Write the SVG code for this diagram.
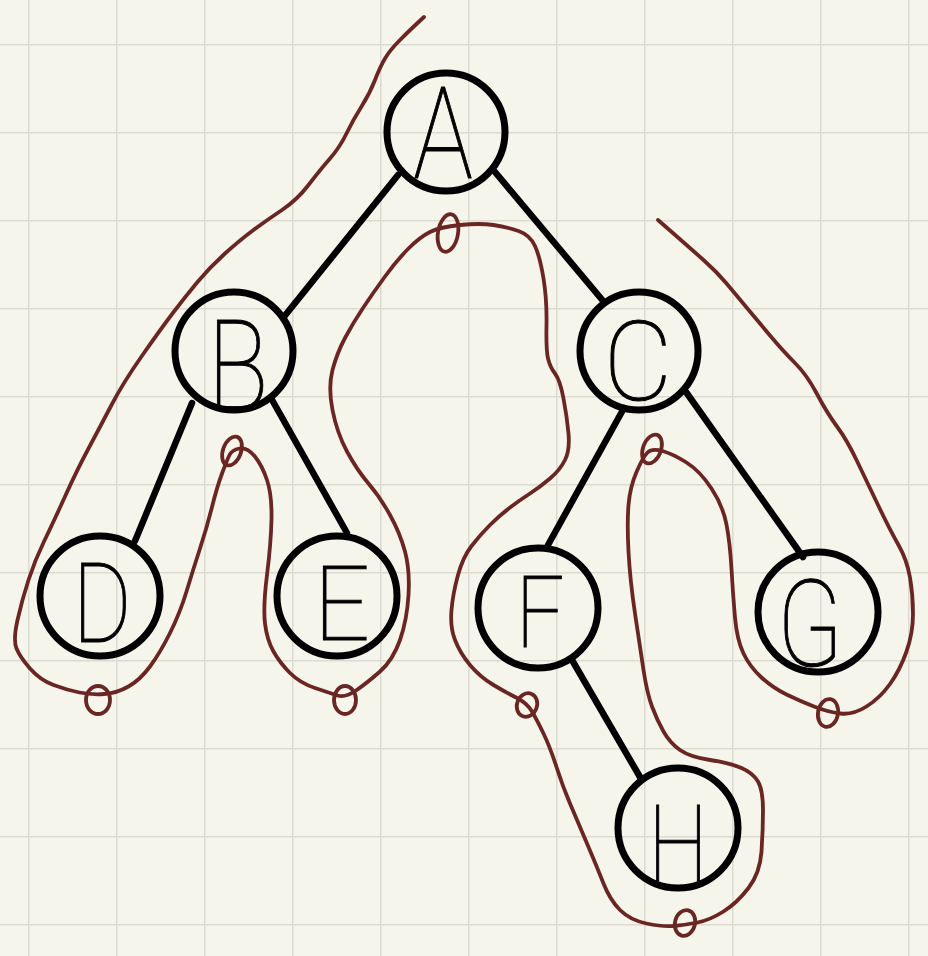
<svg xmlns="http://www.w3.org/2000/svg" width="928" height="956" viewBox="0 0 928 956">
<style>
.edge{stroke:#000;stroke-width:6.5;stroke-linecap:round;fill:none}
.node circle{fill:none;stroke:#000;stroke-width:7}
.node text{font-family:Roboto,"Liberation Sans",sans-serif;font-weight:100;font-size:112px;fill:#000;stroke:#000;stroke-width:1;text-anchor:middle}
.trace{fill:none;stroke:#6a2622;stroke-width:3.8;stroke-linecap:round;stroke-linejoin:round}
</style>
<defs>
<pattern id="grid" x="28" y="44" width="88" height="88" patternUnits="userSpaceOnUse">
<path d="M0,0 V88 M0,0 H88" stroke="#dcdbd1" stroke-width="3" fill="none"/>
</pattern>
</defs>
<rect width="928" height="956" fill="#f6f5ec"/>
<rect width="928" height="956" fill="url(#grid)"/>
<g id="connectors">
<line class="edge" x1="398" y1="175" x2="283" y2="318"/>
<line class="edge" x1="495" y1="172" x2="604" y2="302"/>
<line class="edge" x1="192" y1="403" x2="135" y2="541"/>
<line class="edge" x1="271" y1="398" x2="347" y2="533"/>
<line class="edge" x1="624" y1="408" x2="548" y2="545"/>
<line class="edge" x1="686" y1="392" x2="803" y2="557"/>
<line class="edge" x1="572" y1="660" x2="640" y2="777"/>
</g>
<g id="node-A" class="node"><circle cx="446" cy="132" r="59"/><text transform="translate(443,178) scale(0.78,1)" style="font-size:128px">A</text></g>
<g id="node-B" class="node"><circle cx="234" cy="351" r="59"/><text transform="translate(238,410) scale(0.8,1)" style="font-size:126px">B</text></g>
<g id="node-C" class="node"><circle cx="639" cy="351" r="59"/><text transform="translate(638,400) scale(0.95,1)">C</text></g>
<g id="node-D" class="node"><circle cx="100" cy="596" r="60"/><text transform="translate(102,642) scale(0.8,1)">D</text></g>
<g id="node-E" class="node"><circle cx="337" cy="596" r="60"/><text transform="translate(342,640) scale(0.95,1)" style="font-size:104px">E</text></g>
<g id="node-F" class="node"><circle cx="538" cy="608" r="60"/><text transform="translate(540,647) scale(0.85,1)" style="font-size:100px">F</text></g>
<g id="node-G" class="node"><circle cx="818" cy="612" r="60"/><text transform="translate(810,666) scale(0.8,1)" style="font-size:120px">G</text></g>
<g id="node-H" class="node"><circle cx="678" cy="828" r="60"/><text transform="translate(678,880) scale(0.8,1)" style="font-size:106px">H</text></g>
<g id="traversal">
<path class="trace" d="M424,17 L417,23.5 Q410,30 400,40 Q390,50 385,58.5 Q380,67 375,80 Q370,93 361.5,106.5 Q353,120 346.5,133.5 Q340,147 330,158.5 Q320,170 308.5,185 Q297,200 282,210 Q267,220 253.5,230 Q240,240 225,253.5 Q210,267 197.5,282 Q185,297 172.5,313.5 Q160,330 141.5,356.5 Q123,383 111.5,405 Q100,427 88.5,448.5 Q77,470 65,496.5 Q53,523 44,541.5 Q35,560 28.5,580 Q22,600 17.5,620 Q13,640 16.5,648.5 Q20,657 30,668.5 Q40,680 53.5,685 Q67,690 79.5,692.5 Q92,695 104.5,694 Q117,693 128.5,686.5 Q140,680 150,666.5 Q160,653 170,633 Q180,613 186.5,591.5 Q193,570 200,548.5 Q207,527 212,507 Q217,487 222,473.5 Q227,460 229.5,455 Q232,450 239.5,448.5 Q247,447 254.5,456 Q262,465 267,480 Q272,495 271.5,519 Q271,543 267,575 Q263,607 265,623.5 Q267,640 273.5,651.5 Q280,663 290,673 Q300,683 315,688 Q330,693 337.5,695.5 Q345,698 356,690.5 Q367,683 380,671.5 Q393,660 400,640 Q407,620 408.5,595 Q410,570 405,551.5 Q400,533 390,515 Q380,497 368.5,483.5 Q357,470 347,451.5 Q337,433 332.5,410 Q328,387 332.5,370 Q337,353 345,338 Q353,323 363,308 Q373,293 385,276.5 Q397,260 408.5,248.5 Q420,237 430,232 Q440,227 460,225 Q480,223 493.5,225 Q507,227 518.5,231 Q530,235 535,246 Q540,257 543.5,278.5 Q547,300 546.5,325 Q546,350 548,358.5 Q550,367 555,373.5 Q560,380 563.5,398.5 Q567,417 568.5,433.5 Q570,450 565,460 Q560,470 550,478.5 Q540,487 530,493.5 Q520,500 510,507.5 Q500,515 490,525 Q480,535 471.5,546 Q463,557 458,575 Q453,593 451.5,610 Q450,627 455,640 Q460,653 470,665 Q480,677 493.5,685 Q507,693 517,698 Q527,703 532,711.5 Q537,720 543.5,733.5 Q550,747 556.5,767 Q563,787 570,803.5 Q577,820 587,843.5 Q597,867 603.5,883.5 Q610,900 620,910 Q630,920 646.5,923.5 Q663,927 674,926 Q685,925 697.5,922.5 Q710,920 723.5,911.5 Q737,903 748.5,888 Q760,873 761.5,851.5 Q763,830 763,810 Q763,790 758,781.5 Q753,773 741.5,768 Q730,763 710,760 Q690,757 680,750 Q670,743 663.5,731.5 Q657,720 652,706.5 Q647,693 643.5,670 Q640,647 635,613.5 Q630,580 628.5,551.5 Q627,523 628.5,505 Q630,487 636.5,472 Q643,457 647.5,452.5 Q652,448 662.5,451 Q673,454 686.5,462.5 Q700,471 711.5,488.5 Q723,506 726.5,524.5 Q730,543 731.5,569 Q733,595 735,617.5 Q737,640 743.5,653.5 Q750,667 761.5,677.5 Q773,688 786.5,694.5 Q800,701 814,706.5 Q828,712 840.5,713.5 Q853,715 866.5,706.5 Q880,698 890,684 Q900,670 906.5,651.5 Q913,633 913,614 Q913,595 910,577.5 Q907,560 898.5,545 Q890,530 878.5,506 Q867,482 857,461 Q847,440 837,426.5 Q827,413 817,394 Q807,375 795,363 Q783,351 770,335.5 Q757,320 747,308 Q737,296 727,284 Q717,272 703.5,260 Q690,248 674,234 L658,220"/>
<ellipse class="trace" cx="98" cy="700" rx="12" ry="14"/>
<ellipse class="trace" cx="232" cy="451" rx="9" ry="15" transform="rotate(20 232 451)"/>
<ellipse class="trace" cx="345" cy="700" rx="11" ry="14"/>
<ellipse class="trace" cx="448" cy="233" rx="10" ry="19" transform="rotate(10 448 233)"/>
<ellipse class="trace" cx="527" cy="705" rx="10" ry="12" transform="rotate(20 527 705)"/>
<ellipse class="trace" cx="685" cy="923" rx="10" ry="13" transform="rotate(15 685 923)"/>
<ellipse class="trace" cx="652" cy="449" rx="9" ry="15" transform="rotate(20 652 449)"/>
<ellipse class="trace" cx="828" cy="713" rx="10" ry="14" transform="rotate(10 828 713)"/>
</g>
</svg>
